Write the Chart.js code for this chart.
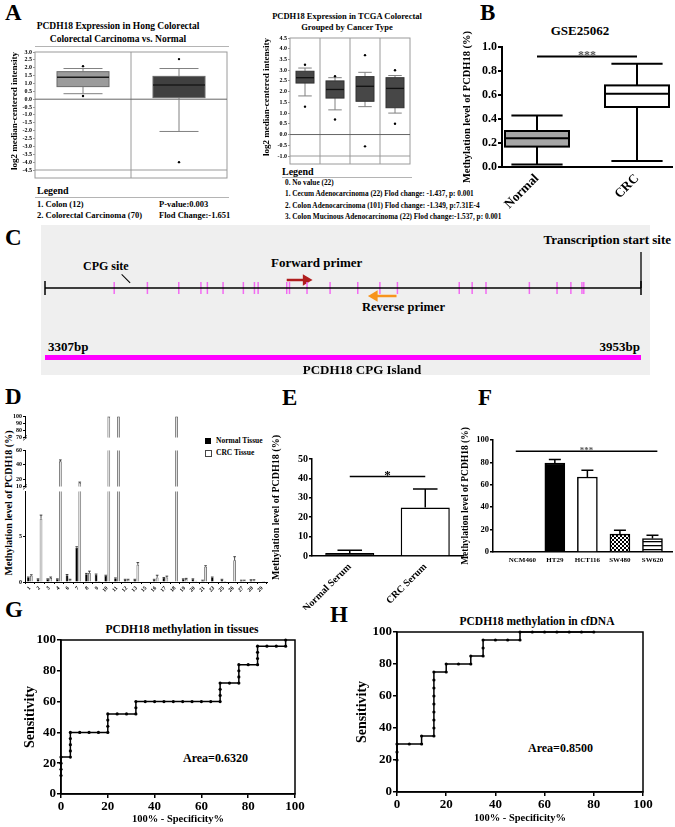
<!DOCTYPE html>
<html>
<head>
<meta charset="utf-8">
<title>PCDH18 methylation figure</title>
<script src="https://cdn.jsdelivr.net/npm/chart.js@4.4.1/dist/chart.umd.min.js"></script>
<style>
  body { margin: 0; width: 675px; height: 827px; position: relative; overflow: hidden; background: #fff;
         font-family: "Liberation Serif", "Times New Roman", serif; font-weight: bold; color: #000; }
  canvas { position: absolute; }
  .t { position: absolute; white-space: nowrap; line-height: 1; }
  .c { transform: translateX(-50%); }
  .lt { position: absolute; font-size: 23px; line-height: 1; }
  .rule { position: absolute; height: 0; border-top: 1px solid #b4b4b4; }
  .rot { transform: translate(-50%, -50%) rotate(-90deg); }
</style>
</head>
<body>
<!-- panel letters -->
<div class="lt" style="left:5px;top:1px">A</div>
<div class="lt" style="left:480px;top:1px">B</div>
<div class="lt" style="left:5px;top:226px">C</div>
<div class="lt" style="left:5px;top:385px">D</div>
<div class="lt" style="left:282px;top:386px">E</div>
<div class="lt" style="left:478px;top:386px">F</div>
<div class="lt" style="left:5px;top:598px">G</div>
<div class="lt" style="left:330px;top:603px">H</div>

<!-- A left -->
<div class="t c" style="left:118px;top:22px;font-size:9.5px">PCDH18 Expression in Hong Colorectal</div>
<div class="t c" style="left:118px;top:35px;font-size:9.5px">Colorectal Carcinoma vs. Normal</div>
<div class="rule" style="left:35px;top:46px;width:194px"></div>
<div class="t" style="left:37px;top:186px;font-size:10px">Legend</div>
<div class="rule" style="left:35px;top:197px;width:194px"></div>
<div class="t" style="left:37px;top:200px;font-size:8.5px">1. Colon (12)</div>
<div class="t" style="left:37px;top:211px;font-size:8.5px">2. Colorectal Carcinoma (70)</div>
<div class="t" style="left:159px;top:200px;font-size:8.5px">P-value:0.003</div>
<div class="t" style="left:159px;top:211px;font-size:8.5px">Flod Change:-1.651</div>

<!-- A right -->
<div class="t c" style="left:347px;top:12px;font-size:8.5px">PCDH18 Expression in TCGA Colorectal</div>
<div class="t c" style="left:347px;top:23px;font-size:8.5px">Grouped by Cancer Type</div>
<div class="t" style="left:282px;top:167px;font-size:10px">Legend</div>
<div class="rule" style="left:282px;top:177px;width:130px"></div>
<div class="t" style="left:285px;top:179px;font-size:7.3px">0. No value (22)</div>
<div class="t" style="left:285px;top:190px;font-size:7.3px">1. Cecum Adenocarcinoma (22) Flod change: -1.437, p: 0.001</div>
<div class="t" style="left:285px;top:201.5px;font-size:7.3px">2. Colon Adenocarcinoma (101) Flod change: -1.349, p:7.31E-4</div>
<div class="t" style="left:285px;top:213px;font-size:7.3px">3. Colon Mucinous Adenocarcinoma (22) Flod change:-1.537, p: 0.001</div>

<!-- B -->
<div class="t c" style="left:580px;top:23.5px;font-size:13px">GSE25062</div>

<!-- C -->
<div style="position:absolute;left:41px;top:225px;width:609px;height:150px;background:#efefef"></div>
<div class="t" style="right:4px;top:233px;font-size:13px">Transcription start site</div>
<div class="t" style="left:83px;top:260px;font-size:12px">CPG site</div>
<div style="position:absolute;left:122px;top:274px;width:12px;border-top:1px solid #000;transform:rotate(45deg);transform-origin:0 0"></div>
<div class="t" style="left:271px;top:256px;font-size:13px">Forward primer</div>
<div class="t" style="left:362px;top:301px;font-size:12.5px">Reverse primer</div>
<div class="t" style="left:48px;top:340px;font-size:13px">3307bp</div>
<div class="t" style="right:35px;top:340px;font-size:13px">3953bp</div>

<!-- D -->
<div class="t rot" style="left:9px;top:503px;font-size:10px">Methylation level of PCDH18 (%)</div>
<div style="position:absolute;left:205px;top:438px;width:6px;height:6px;background:#000"></div>
<div class="t" style="left:216px;top:437px;font-size:7.5px">Normal Tissue</div>
<div style="position:absolute;left:205px;top:450px;width:5px;height:5px;border:1px solid #444;background:#fff"></div>
<div class="t" style="left:216px;top:449px;font-size:7.5px">CRC Tissue</div>

<!-- G / H -->
<div class="t c" style="left:182px;top:624px;font-size:11.5px">PCDH18 methylation in tissues</div>
<div class="t" style="left:183px;top:752px;font-size:12px">Area=0.6320</div>
<div class="t c" style="left:537px;top:616px;font-size:11.5px">PCDH18 methylation in cfDNA</div>
<div class="t" style="left:528px;top:742px;font-size:12px">Area=0.8500</div>

<script>
// ---------- data ----------
// A left: Oncomine Hong colorectal (log2 median-centered intensity)
const hongLabels = ['1', '2'];
const hongMin = [0.35, -2.05];
const hongQ1 = [0.8, 0.1];
const hongMedian = [1.4, 0.9];
const hongQ3 = [1.75, 1.45];
const hongMax = [1.95, 1.95];
const hongOutliers = [[2.1, 0.2], [2.55, -4.0]];

// A right: TCGA colorectal grouped by cancer type
const tcgaLabels = ['0', '1', '2', '3'];
const tcgaMin = [1.8, 1.15, 1.3, 1.0];
const tcgaQ1 = [2.4, 1.7, 1.55, 1.25];
const tcgaMedian = [2.65, 2.1, 2.25, 2.15];
const tcgaQ3 = [2.95, 2.5, 2.7, 2.65];
const tcgaMax = [3.1, 2.65, 2.9, 2.75];
const tcgaOutliers = [[3.25, 1.3], [2.72, 0.7], [3.7, -0.55], [3.0, 0.5]];

// B: GSE25062 methylation level
const gseLabels = ['Normal', 'CRC'];
const gseMin = [0.02, 0.05];
const gseQ1 = [0.17, 0.50];
const gseMedian = [0.24, 0.61];
const gseQ3 = [0.30, 0.68];
const gseMax = [0.43, 0.86];

// C: CpG island layout (bp)
const islandStart = 3307;
const islandEnd = 3953;
const cpgSites = [3382, 3418, 3452, 3476, 3483, 3500, 3522, 3534, 3538, 3569, 3572, 3591,
                  3616, 3646, 3670, 3689, 3756, 3770, 3785, 3832, 3862, 3877, 3889, 3891];
const fwdPrimer = [3569, 3590];
const revPrimer = [3664, 3688];

// D: methylation per CpG site (%)
const dSites = ['1', '2', '3', '4', '6', '7', '8', '9', '10', '11', '12', '13', '15', '16', '17',
                '18', '19', '20', '21', '23', '25', '26', '27', '28', '29'];
const dNormal = [0.5, 0.3, 0.3, 0.3, 0.75, 3.8, 0.85, 0.8, 0.7, 0.4, 0.25, 0.25, 0.05, 0.25, 0.45,
                 0.05, 0.3, 0.3, 0.15, 0.5, 0.25, 0.05, 0.15, 0.2, 0.05];
const dNormalErr = [0.05, 0.05, 0.05, 0.05, 0.08, 0.1, 0.1, 0.08, 0.05, 0.05, 0.05, 0.05, 0, 0.05, 0.05,
                    0, 0.05, 0.05, 0.05, 0.05, 0.05, 0, 0.05, 0.05, 0];
const dCRC = [0.7, 7.0, 0.45, 45, 0.25, 15, 1.0, 0.1, 100, 100, 0.25, 1.9, 0.05, 0.5, 0.5,
              100, 0.35, 0.15, 1.7, 0.05, 0.1, 2.4, 0.15, 0.2, 0.1];
const dCRCErr = [0.1, 0.4, 0.1, 2, 0.05, 1, 0.2, 0, 0.3, 0.3, 0.05, 0.25, 0, 0.25, 0.15,
                 0.3, 0.05, 0, 0.1, 0, 0, 0.4, 0.05, 0.05, 0];

// E: serum
const serumLabels = ['Normal Serum', 'CRC Serum'];
const serumMean = [1.5, 25];
const serumErr = [1.4, 9.5];

// F: cell lines
const cellLabels = ['NCM460', 'HT29', 'HCT116', 'SW480', 'SW620'];
const cellMean = [0, 79.5, 67, 16, 12];
const cellErr = [0, 3, 6, 3.5, 3];

// G: ROC in tissues (100% - specificity, sensitivity)
const tissueX = [0, 0, 0, 0, 4, 4, 4, 4, 4, 8, 12, 16, 20, 20, 20, 20, 24, 28, 32, 32, 32, 36, 40, 44,
                 48, 52, 56, 60, 64, 68, 68, 68, 68, 72, 76, 76, 76, 76, 80, 84, 84, 84, 84, 88, 92, 96, 96];
const tissueY = [12, 16, 20, 24, 24, 28, 32, 36, 40, 40, 40, 40, 40, 44, 48, 52, 52, 52, 52, 56, 60, 60, 60, 60,
                 60, 60, 60, 60, 60, 60, 64, 68, 72, 72, 72, 76, 80, 84, 84, 84, 88, 92, 96, 96, 96, 96, 100];

// H: ROC in cfDNA
const cfX = [0, 0, 0, 5, 10, 10, 15, 15, 15, 15, 15, 15, 15, 15, 15, 20, 20, 25, 30, 30, 35, 35, 35,
             40, 45, 50, 50, 55, 60, 65, 70, 75, 80];
const cfY = [20, 25, 30, 30, 30, 35, 35, 40, 45, 50, 55, 60, 65, 70, 75, 75, 80, 80, 80, 85, 85, 90, 95,
             95, 95, 95, 100, 100, 100, 100, 100, 100, 100];

// ---------- setup ----------
Chart.defaults.font.family = '"Liberation Serif", "Times New Roman", serif';
Chart.defaults.font.weight = 'bold';
Chart.defaults.color = '#000';
Chart.defaults.animation = false;
Chart.defaults.responsive = false;
Chart.defaults.layout.autoPadding = false;
Chart.defaults.plugins.legend.display = false;
Chart.defaults.plugins.tooltip.enabled = false;

function canvasAt(left, top, w, h) {
  const c = document.createElement('canvas');
  c.width = w; c.height = h;
  c.style.left = left + 'px'; c.style.top = top + 'px';
  c.style.width = w + 'px'; c.style.height = h + 'px';
  document.body.appendChild(c);
  return c;
}

// box and whiskers, drawn on the chart's scales
function boxPlot(s, st) {
  return {
    id: 'boxPlot',
    afterDatasetsDraw(chart) {
      const ctx = chart.ctx, xs = chart.scales.x, ys = chart.scales.y;
      const py = v => ys.getPixelForValue(v);
      s.q1.forEach((q1, i) => {
        const cx = xs.getPixelForValue(i), w = st.width, cw = w * st.cap;
        const top = py(s.q3[i]), bot = py(q1), hi = py(s.max[i]), lo = py(s.min[i]), med = py(s.median[i]);
        ctx.save();
        ctx.strokeStyle = st.whisker; ctx.lineWidth = st.whiskerWidth;
        ctx.beginPath();
        ctx.moveTo(cx, top); ctx.lineTo(cx, hi);
        ctx.moveTo(cx, bot); ctx.lineTo(cx, lo);
        ctx.moveTo(cx - cw / 2, hi); ctx.lineTo(cx + cw / 2, hi);
        ctx.moveTo(cx - cw / 2, lo); ctx.lineTo(cx + cw / 2, lo);
        ctx.stroke();
        ctx.fillStyle = st.fill[i];
        ctx.fillRect(cx - w / 2, top, w, bot - top);
        ctx.strokeStyle = st.edge; ctx.lineWidth = st.edgeWidth;
        ctx.strokeRect(cx - w / 2, top, w, bot - top);
        ctx.strokeStyle = st.medianColor; ctx.lineWidth = st.medianWidth;
        ctx.beginPath(); ctx.moveTo(cx - w / 2, med); ctx.lineTo(cx + w / 2, med); ctx.stroke();
        ctx.fillStyle = '#000';
        (s.out ? s.out[i] : []).forEach(v => {
          ctx.beginPath(); ctx.arc(cx, py(v), 1.2, 0, Math.PI * 2); ctx.fill();
        });
        ctx.restore();
      });
    }
  };
}

// oncomine style frame with label strip and zero line
function oncoFrame(strip) {
  return {
    id: 'oncoFrame',
    beforeDatasetsDraw(chart) {
      const { ctx, chartArea: a } = chart, xs = chart.scales.x, ys = chart.scales.y;
      ctx.save();
      ctx.strokeStyle = '#9a9a9a'; ctx.lineWidth = 1;
      ctx.strokeRect(a.left, a.top, a.right - a.left, a.bottom - a.top + strip);
      ctx.beginPath();
      ctx.moveTo(a.left, a.bottom); ctx.lineTo(a.right, a.bottom);
      for (let i = 0; i < xs.ticks.length - 1; i++) {
        const xx = (xs.getPixelForValue(i) + xs.getPixelForValue(i + 1)) / 2;
        ctx.moveTo(xx, a.top); ctx.lineTo(xx, a.bottom + strip);
      }
      ctx.stroke();
      ctx.strokeStyle = '#666';
      ctx.beginPath(); ctx.moveTo(a.left, ys.getPixelForValue(0)); ctx.lineTo(a.right, ys.getPixelForValue(0)); ctx.stroke();
      ctx.restore();
    }
  };
}

// significance bar
function sigBar(from, to, at, text, size, color, lw) {
  return {
    id: 'sigBar',
    afterDatasetsDraw(chart) {
      const ctx = chart.ctx, xs = chart.scales.x, ys = chart.scales.y;
      const x1 = xs.getPixelForValue(from), x2 = xs.getPixelForValue(to), yy = ys.getPixelForValue(at);
      ctx.save();
      ctx.strokeStyle = '#000'; ctx.lineWidth = lw;
      ctx.beginPath(); ctx.moveTo(x1, yy); ctx.lineTo(x2, yy); ctx.stroke();
      ctx.fillStyle = color; ctx.textAlign = 'center'; ctx.textBaseline = 'alphabetic';
      ctx.font = 'bold ' + size + 'px "Liberation Serif"';
      ctx.fillText(text, (x1 + x2) / 2, yy + size * 0.2);
      ctx.restore();
    }
  };
}

// upward error bars from dataset.errors
const errBars = {
  id: 'errBars',
  afterDatasetsDraw(chart) {
    const { ctx, chartArea: a } = chart, ys = chart.scales.y;
    ctx.save();
    ctx.beginPath(); ctx.rect(a.left - 3, a.top, a.right - a.left + 6, a.bottom - a.top); ctx.clip();
    chart.data.datasets.forEach((ds, di) => {
      if (!ds.errors) return;
      chart.getDatasetMeta(di).data.forEach((bar, j) => {
        const e = ds.errors[j];
        if (!e) return;
        const raw = ds.data[j];
        const v = typeof raw === 'object' ? raw.y : raw;
        const yTop = ys.getPixelForValue(v + e), half = bar.width * ds.capRatio / 2;
        ctx.strokeStyle = '#000'; ctx.lineWidth = ds.errWidth;
        ctx.beginPath();
        ctx.moveTo(bar.x, bar.y); ctx.lineTo(bar.x, yTop);
        ctx.moveTo(bar.x - half, yTop); ctx.lineTo(bar.x + half, yTop);
        ctx.stroke();
      });
    });
    ctx.restore();
  }
};

// axis break marks at the bottom of a y segment
const breakMark = {
  id: 'breakMark',
  afterDraw(chart) {
    const { ctx, chartArea: a } = chart;
    ctx.save(); ctx.strokeStyle = '#000'; ctx.lineWidth = 0.7;
    ctx.beginPath();
    ctx.moveTo(a.left - 2, a.bottom + 1); ctx.lineTo(a.left + 2, a.bottom - 2);
    ctx.moveTo(a.left - 2, a.bottom + 3); ctx.lineTo(a.left + 2, a.bottom);
    ctx.stroke(); ctx.restore();
  }
};

const frame = {
  id: 'frame',
  afterDraw(chart) {
    const { ctx, chartArea: a } = chart;
    ctx.save(); ctx.strokeStyle = '#000'; ctx.lineWidth = 1.5;
    ctx.strokeRect(a.left, a.top, a.right - a.left, a.bottom - a.top);
    ctx.restore();
  }
};

function gpAxis(size, lw, tick, extra) {
  return Object.assign({
    grid: { drawOnChartArea: false, color: '#000', lineWidth: lw, tickLength: tick },
    border: { color: '#000', width: lw },
    ticks: { font: { size }, padding: 1, autoSkip: false }
  }, extra);
}

function pattern(draw) {
  const c = document.createElement('canvas');
  c.width = 4; c.height = 4;
  const g = c.getContext('2d');
  g.fillStyle = '#fff'; g.fillRect(0, 0, 4, 4);
  g.fillStyle = '#000'; draw(g);
  return g.createPattern(c, 'repeat');
}
const checker = pattern(g => { g.fillRect(0, 0, 2, 2); g.fillRect(2, 2, 2, 2); });
const stripes = pattern(g => { g.fillRect(0, 0, 4, 1.3); });

// ---------- A left ----------
new Chart(canvasAt(0, 40, 232, 150), {
  type: 'bar',
  data: { labels: hongLabels, datasets: [] },
  options: {
    layout: { padding: { left: 0, right: 5, top: 12, bottom: 12 } },
    scales: {
      x: { grid: { display: false }, border: { display: false },
           ticks: { font: { size: 6 }, padding: 1 }, afterFit: s => { s.height = 8; } },
      y: { min: -4.5, max: 3, grid: { drawOnChartArea: false, color: '#999', tickLength: 2 }, border: { display: false },
           ticks: { stepSize: 0.5, autoSkip: false, font: { size: 6 }, padding: 1, callback: v => v.toFixed(1) },
           title: { display: true, text: 'log2 median-centered intensity', font: { size: 9 }, padding: { top: 9.6, bottom: 0 } },
           afterFit: s => { s.width = 35; } }
    }
  },
  plugins: [oncoFrame(8), boxPlot(
    { min: hongMin, q1: hongQ1, median: hongMedian, q3: hongQ3, max: hongMax, out: hongOutliers },
    { width: 52, cap: 0.75, fill: ['#9b9b9b', '#404040'], edge: '#6a6a6a', edgeWidth: 1,
      whisker: '#808080', whiskerWidth: 1, medianColor: '#1a1a1a', medianWidth: 1.5 })]
});

// ---------- A right ----------
new Chart(canvasAt(255, 25, 160, 150), {
  type: 'bar',
  data: { labels: tcgaLabels, datasets: [] },
  options: {
    layout: { padding: { left: 0, right: 5, top: 13, bottom: 11 } },
    scales: {
      x: { grid: { display: false }, border: { display: false },
           ticks: { font: { size: 6 }, padding: 1 }, afterFit: s => { s.height = 8; } },
      y: { min: -1, max: 4.5, grid: { drawOnChartArea: false, color: '#999', tickLength: 2 }, border: { display: false },
           ticks: { stepSize: 0.5, autoSkip: false, font: { size: 6 }, padding: 1, callback: v => v.toFixed(1) },
           title: { display: true, text: 'log2 median-centered intensity', font: { size: 9 }, padding: { top: 6.6, bottom: 0 } },
           afterFit: s => { s.width = 35; } }
    }
  },
  plugins: [oncoFrame(8), boxPlot(
    { min: tcgaMin, q1: tcgaQ1, median: tcgaMedian, q3: tcgaQ3, max: tcgaMax, out: tcgaOutliers },
    { width: 18, cap: 0.75, fill: ['#474747', '#474747', '#474747', '#474747'], edge: '#333', edgeWidth: 1,
      whisker: '#808080', whiskerWidth: 1, medianColor: '#111', medianWidth: 1.3 })]
});

// ---------- B ----------
new Chart(canvasAt(455, 20, 220, 190), {
  type: 'scatter',
  data: { datasets: [] },
  options: {
    layout: { padding: { left: 0, right: 3, top: 27, bottom: 0 } },
    scales: {
      x: gpAxis(13, 2, 0, {
        type: 'linear', min: -0.35, max: 1.35,
        grid: { display: true, drawOnChartArea: false, drawTicks: false, color: '#000', lineWidth: 2 },
        afterBuildTicks: s => { s.ticks = gseLabels.map((l, i) => ({ value: i })); },
        ticks: { font: { size: 13 }, minRotation: 45, maxRotation: 45, padding: 4, autoSkip: false, callback: v => gseLabels[v] },
        afterFit: s => { s.height = 43; } }),
      y: gpAxis(12, 2, 4, {
        min: 0, max: 1,
        ticks: { stepSize: 0.2, font: { size: 12 }, padding: 1, callback: v => v.toFixed(1) },
        title: { display: true, text: 'Methylation level of PCDH18 (%)', font: { size: 10.5 }, padding: { top: 5.7, bottom: 0 } },
        afterFit: s => { s.width = 47; } })
    }
  },
  plugins: [boxPlot(
    { min: gseMin, q1: gseQ1, median: gseMedian, q3: gseQ3, max: gseMax },
    { width: 64, cap: 0.8, fill: ['#a6a6a6', '#ffffff'], edge: '#000', edgeWidth: 2,
      whisker: '#000', whiskerWidth: 2, medianColor: '#000', medianWidth: 2 }),
    sigBar(0, 1, 0.92, '***', 12, '#555', 2)]
});

// ---------- C ----------
const rowTSS = 30, rowFwd = 58, rowLine = 66, rowRev = 74, rowIsland = 135.5, tssArrow = 20;
new Chart(canvasAt(0, 222, 675, 153), {
  type: 'scatter',
  data: { datasets: [
    { type: 'line', data: [{ x: islandStart, y: rowLine }, { x: islandEnd, y: rowLine }],
      borderColor: '#000', borderWidth: 1.3, pointRadius: 0 },
    { data: [{ x: islandStart, y: rowLine }, { x: islandEnd, y: rowLine }], pointStyle: 'line', pointRotation: 90,
      pointRadius: 7, pointBorderColor: '#000', pointBorderWidth: 1.5, clip: false },
    { data: cpgSites.map(bp => ({ x: bp, y: rowLine })), pointStyle: 'line', pointRotation: 90,
      pointRadius: 6, pointBorderColor: '#f26bf2', pointBorderWidth: 1.5 },
    { type: 'line', data: [{ x: islandStart, y: rowIsland }, { x: islandEnd, y: rowIsland }],
      borderColor: '#ff00ff', borderWidth: 5, borderCapStyle: 'butt', pointRadius: 0 },
    { type: 'line', data: [{ x: fwdPrimer[0], y: rowFwd }, { x: fwdPrimer[1], y: rowFwd }],
      borderColor: '#b01e1e', borderWidth: 2.5, pointStyle: 'triangle', pointRotation: 90,
      pointRadius: [0, 4], pointBackgroundColor: '#b01e1e', pointBorderColor: '#b01e1e', clip: false },
    { type: 'line', data: [{ x: revPrimer[1], y: rowRev }, { x: revPrimer[0], y: rowRev }],
      borderColor: '#f7941d', borderWidth: 2.5, pointStyle: 'triangle', pointRotation: -90,
      pointRadius: [0, 4], pointBackgroundColor: '#f7941d', pointBorderColor: '#f7941d', clip: false },
    { type: 'line', data: [{ x: islandEnd, y: rowLine }, { x: islandEnd, y: rowTSS }, { x: islandEnd + tssArrow, y: rowTSS }],
      borderColor: '#000', borderWidth: 1.3, pointStyle: 'triangle', pointRotation: 90,
      pointRadius: [0, 0, 3.5], pointBackgroundColor: '#000', pointBorderColor: '#000', clip: false }
  ] },
  options: {
    layout: { padding: { left: 45, right: 34, top: 0, bottom: 0 } },
    scales: {
      x: { type: 'linear', display: false, min: islandStart, max: islandEnd },
      y: { display: false, min: 0, max: 153, reverse: true }
    }
  }
});
// CPG island label (below the magenta bar)
document.body.insertAdjacentHTML('beforeend',
  '<div class="t c" style="left:362px;top:362.5px;font-size:13px">PCDH18 CPG Island</div>');

// ---------- D (broken y axis: three stacked segments) ----------
function dSegment(top, h, min, max, tickVals, padTop, padBottom, showX) {
  return new Chart(canvasAt(0, top, 270, h), {
    type: 'bar',
    data: { labels: dSites, datasets: [
      { data: dNormal, errors: dNormalErr, capRatio: 1, errWidth: 0.7,
        backgroundColor: '#000', borderColor: '#000', borderWidth: 0.5 },
      { data: dCRC, errors: dCRCErr, capRatio: 1, errWidth: 0.7,
        backgroundColor: '#dedede', borderColor: '#4a4a4a', borderWidth: 0.8 }
    ] },
    options: {
      layout: { padding: { left: 0, right: 3, top: padTop, bottom: padBottom } },
      datasets: { bar: { categoryPercentage: 0.62, barPercentage: 0.9 } },
      scales: {
        x: { display: showX, grid: { drawOnChartArea: false, color: '#000', tickLength: 2 }, border: { color: '#000' },
             ticks: { font: { size: 5.5 }, minRotation: 45, maxRotation: 45, autoSkip: false, padding: 1 },
             afterFit: s => { if (showX) s.height = 28; } },
        y: { min, max, grid: { drawOnChartArea: false, color: '#000', tickLength: 2 }, border: { color: '#000' },
             afterBuildTicks: s => { s.ticks = tickVals.map(v => ({ value: v })); },
             ticks: { font: { size: 6 }, padding: 1, autoSkip: false },
             afterFit: s => { s.width = 25; } }
      }
    },
    plugins: showX ? [errBars] : [errBars, breakMark]
  });
}
dSegment(410, 32, 70, 100, [70, 80, 90, 100], 6.7, 3, false);
dSegment(446, 45, 10, 60, [10, 20, 40, 60], 4, 2.7, false);
dSegment(487, 123, 0, 10, [0, 5], 3, 0, true);

// ---------- E ----------
new Chart(canvasAt(265, 415, 205, 195), {
  type: 'bar',
  data: { labels: serumLabels, datasets: [
    { data: serumMean, errors: serumErr, capRatio: 0.5, errWidth: 1.5,
      backgroundColor: ['#000', '#fff'], borderColor: '#000', borderWidth: 1.5,
      categoryPercentage: 1, barPercentage: 0.65 }
  ] },
  options: {
    layout: { padding: { left: 0, right: 7, top: 44, bottom: 0 } },
    scales: {
      x: gpAxis(10, 1.5, 0, {
        grid: { display: true, drawOnChartArea: false, drawTicks: false, color: '#000' },
        ticks: { font: { size: 10 }, minRotation: 45, maxRotation: 45, padding: 5, autoSkip: false },
        afterFit: s => { s.height = 54; } }),
      y: gpAxis(10, 1.5, 3, {
        min: 0, max: 50,
        ticks: { stepSize: 10, font: { size: 10 }, padding: 1 },
        title: { display: true, text: 'Methylation level of PCDH18 (%)', font: { size: 10 }, padding: { top: 5, bottom: 0 } },
        afterFit: s => { s.width = 47; } })
    }
  },
  plugins: [errBars, sigBar(0, 1, 41, '*', 13, '#000', 1.5)]
});

// ---------- F ----------
new Chart(canvasAt(450, 425, 225, 185), {
  type: 'bar',
  data: { datasets: [
    { data: cellMean.map((v, i) => ({ x: i, y: v })), errors: cellErr, capRatio: 0.6, errWidth: 1.5,
      backgroundColor: ['#000', '#000', '#fff', checker, stripes], borderColor: '#000', borderWidth: 1.5,
      barThickness: 20 }
  ] },
  options: {
    layout: { padding: { left: 0, right: 3, top: 15, bottom: 43 } },
    scales: {
      x: gpAxis(7, 1.5, 0, {
        type: 'linear', min: -0.9, max: 4.6, offset: false,
        grid: { display: true, drawOnChartArea: false, drawTicks: false, color: '#000', offset: false },
        afterBuildTicks: s => { s.ticks = cellLabels.map((l, i) => ({ value: i })); },
        ticks: { font: { size: 7 }, padding: 4, autoSkip: false, maxRotation: 0, callback: v => cellLabels[v] },
        afterFit: s => { s.height = 15; } }),
      y: gpAxis(8.5, 1.5, 3, {
        min: 0, max: 100,
        ticks: { stepSize: 20, font: { size: 8.5 }, padding: 1 },
        title: { display: true, text: 'Methylation level of PCDH18 (%)', font: { size: 9.5 }, padding: { top: 10.3, bottom: 0 } },
        afterFit: s => { s.width = 43; } })
    }
  },
  plugins: [errBars, sigBar(-0.2, 4.15, 90, '***', 9, '#555', 1.5)]
});

// ---------- G / H ROC ----------
function roc(left, xs, ys, yW, padR, padT, xH, yTitlePad, xTitlePad) {
  return new Chart(canvasAt(left, 600, 335, 227), {
    type: 'scatter',
    data: { datasets: [
      { data: xs.map((x, i) => ({ x, y: ys[i] })), showLine: true, borderColor: '#000', borderWidth: 1.5,
        pointRadius: 1.6, pointBackgroundColor: '#000', pointBorderWidth: 0, clip: 4 }
    ] },
    options: {
      layout: { padding: { left: 0, right: padR, top: padT, bottom: 0 } },
      scales: {
        x: gpAxis(13, 1.5, 4, {
          min: 0, max: 100,
          ticks: { stepSize: 20, font: { size: 13 }, padding: 1 },
          title: { display: true, text: '100% - Specificity%', font: { size: 10.5 }, padding: { top: 0, bottom: xTitlePad } },
          afterFit: s => { s.height = xH; } }),
        y: gpAxis(13, 1.5, 4, {
          min: 0, max: 100,
          ticks: { stepSize: 20, font: { size: 13 }, padding: 1 },
          title: { display: true, text: 'Sensitivity', font: { size: 14 }, padding: { top: yTitlePad, bottom: 0 } },
          afterFit: s => { s.width = yW; } })
      }
    },
    plugins: [frame]
  });
}
roc(0, tissueX, tissueY, 61, 40, 40, 33, 21.6, 1.7);
roc(340, cfX, cfY, 57, 32, 32, 35, 13.6, 2.7);
</script>
</body>
</html>
